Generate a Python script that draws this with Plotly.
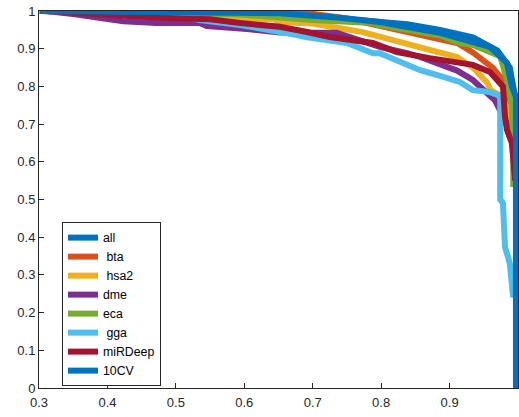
import plotly.graph_objects as go

names = ["all", " bta", " hsa2", "dme", "eca", " gga", "miRDeep", "10CV"]
colors = ["#0072BD", "#D95319", "#EDB120", "#7E2F8E", "#77AC30", "#4DBEEE", "#A2142F", "#0072BD"]

all_x = [0.301, 0.40, 0.50, 0.594, 0.652, 0.74, 0.798, 0.838, 0.886, 0.934, 0.97, 0.988, 0.995]
all_y = [1.0, 0.998, 0.997, 0.995, 0.993, 0.98, 0.972, 0.965, 0.95, 0.93, 0.895, 0.85, 0.78]

bta_x = [0.31, 0.6, 0.69, 0.75, 0.823, 0.871, 0.911, 0.934, 0.963, 0.981, 0.988, 0.991]
bta_y = [1.0, 0.997, 0.995, 0.98, 0.95, 0.931, 0.915, 0.89, 0.85, 0.81, 0.75, 0.67]

hsa2_x = [0.31, 0.5, 0.569, 0.642, 0.652, 0.70, 0.773, 0.823, 0.871, 0.911, 0.934, 0.955, 0.96, 0.975, 0.985, 0.988]
hsa2_y = [1.0, 0.997, 0.984, 0.978, 0.971, 0.967, 0.944, 0.918, 0.897, 0.878, 0.85, 0.81, 0.79, 0.775, 0.74, 0.69]

dme_x = [0.31, 0.35, 0.423, 0.472, 0.535, 0.545, 0.604, 0.652, 0.735, 0.798, 0.838, 0.857, 0.911, 0.934, 0.955, 0.966, 0.984, 0.988]
dme_y = [1.0, 0.992, 0.973, 0.968, 0.968, 0.96, 0.952, 0.943, 0.942, 0.905, 0.888, 0.878, 0.842, 0.817, 0.782, 0.764, 0.70, 0.666]

eca_x = [0.31, 0.5, 0.6, 0.70, 0.788, 0.798, 0.886, 0.915, 0.934, 0.974, 0.984, 0.991, 0.993, 0.993]
eca_y = [1.0, 0.997, 0.99, 0.976, 0.968, 0.963, 0.935, 0.915, 0.91, 0.88, 0.817, 0.75, 0.60, 0.533]

gga_x = [0.31, 0.5, 0.535, 0.594, 0.677, 0.69, 0.75, 0.788, 0.798, 0.838, 0.857, 0.886, 0.915, 0.934, 0.959, 0.974, 0.974, 0.978, 0.981, 0.985, 0.988, 0.993]
gga_y = [1.0, 0.99, 0.976, 0.963, 0.936, 0.931, 0.915, 0.888, 0.888, 0.857, 0.843, 0.828, 0.812, 0.79, 0.785, 0.775, 0.50, 0.49, 0.374, 0.35, 0.33, 0.24]

mirdeep_x = [0.31, 0.35, 0.39, 0.45, 0.496, 0.55, 0.594, 0.652, 0.69, 0.725, 0.788, 0.823, 0.871, 0.915, 0.934, 0.959, 0.978, 0.981, 0.984, 0.991, 0.993, 0.996]
mirdeep_y = [1.0, 0.995, 0.99, 0.985, 0.981, 0.978, 0.968, 0.958, 0.945, 0.931, 0.915, 0.891, 0.875, 0.865, 0.857, 0.838, 0.80, 0.72, 0.684, 0.65, 0.58, 0.55]

cv10_x = [0.301, 0.45, 0.55, 0.652, 0.74, 0.798, 0.886, 0.934, 0.959, 0.984, 0.991, 0.997, 0.997]
cv10_y = [1.0, 0.998, 0.996, 0.994, 0.982, 0.971, 0.942, 0.92, 0.905, 0.862, 0.80, 0.772, 0.0]

xs = [all_x, bta_x, hsa2_x, dme_x, eca_x, gga_x, mirdeep_x, cv10_x]
ys = [all_y, bta_y, hsa2_y, dme_y, eca_y, gga_y, mirdeep_y, cv10_y]

x_ticks = [0.3, 0.4, 0.5, 0.6, 0.7, 0.8, 0.9, 1]
y_ticks = [0, 0.1, 0.2, 0.3, 0.4, 0.5, 0.6, 0.7, 0.8, 0.9, 1]

fig = go.Figure()
for n, c, x, y in zip(names, colors, xs, ys):
    fig.add_trace(go.Scatter(x=x, y=y, mode="lines", name=n,
                             line=dict(color=c, width=6)))

axcol = "#262626"
fig.update_layout(
    width=519, height=417,
    margin=dict(l=39, r=1, t=11, b=29),
    paper_bgcolor="white", plot_bgcolor="white",
    font=dict(family="Arial, Liberation Sans, sans-serif", color=axcol, size=13),
    showlegend=True,
    legend=dict(x=0.048, y=0.44, xanchor="left", yanchor="top",
                bgcolor="white", bordercolor=axcol, borderwidth=1,
                font=dict(size=12.3, color="black"), tracegroupgap=0,
                itemwidth=30),
)
fig.update_xaxes(range=[0.3, 1], tickvals=x_ticks, ticktext=["0.3", "0.4", "0.5", "0.6", "0.7", "0.8", "0.9", "1"],
                 showgrid=False, zeroline=False, showline=True, mirror=True,
                 linecolor=axcol, linewidth=1, ticks="inside", ticklen=5, tickcolor=axcol,
                 ticklabelstandoff=2)
fig.update_yaxes(range=[0, 1], tickvals=y_ticks, ticktext=["0", "0.1", "0.2", "0.3", "0.4", "0.5", "0.6", "0.7", "0.8", "0.9", "1"],
                 showgrid=False, zeroline=False, showline=True, mirror=True,
                 linecolor=axcol, linewidth=1, ticks="inside", ticklen=5, tickcolor=axcol)

fig.write_html("out.html")
